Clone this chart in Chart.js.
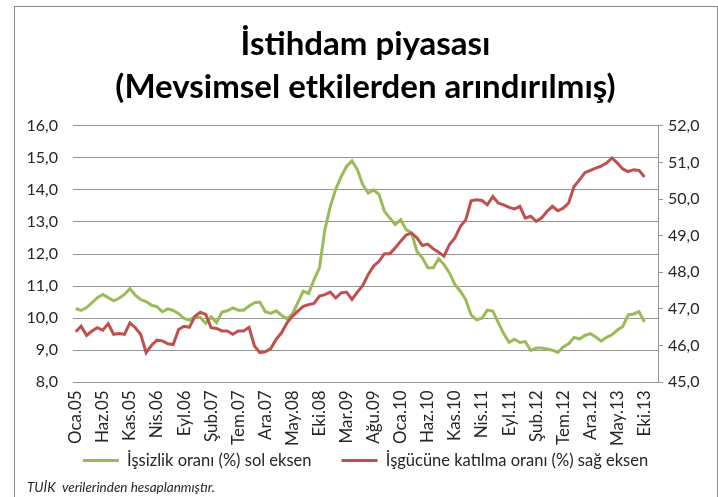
<!DOCTYPE html>
<html lang="tr">
<head>
<meta charset="utf-8">
<title>İstihdam piyasası</title>
<script src="https://cdn.jsdelivr.net/npm/chart.js@4.4.1/dist/chart.umd.min.js"></script>
<style>
  html, body { margin: 0; padding: 0; background: #fff; }
  #wrap { position: relative; width: 718px; height: 497px; overflow: hidden; }
  #frame { position: absolute; left: 14px; top: 6px; width: 702px; height: 600px; border: 1px solid #868686; }
  #chart { position: absolute; left: 0; top: 0; }
</style>
</head>
<body>
<div id="wrap">
  <div id="frame"></div>
  <canvas id="chart" width="718" height="497"></canvas>
</div>
<script>
// month names used for the category axis (Oca.05 ... Ara.13)
const monthNames = ["Oca", "Şub", "Mar", "Nis", "May", "Haz", "Tem", "Ağu", "Eyl", "Eki", "Kas", "Ara"];
const years = ["05", "06", "07", "08", "09", "10", "11", "12", "13"];

const labels = [];
years.forEach(y => monthNames.forEach(m => labels.push(m + "." + y)));

// İşsizlik oranı (%) - sol eksen, monthly from Oca.05 to Eki.13
const unemployment = [
  10.30, 10.24, 10.33, 10.48, 10.64, 10.74, 10.64, 10.54, 10.62, 10.74, 10.92, 10.72,
  10.58, 10.52, 10.40, 10.36, 10.20, 10.29, 10.24, 10.14, 9.99, 9.94, 10.04, 10.02,
  9.84, 10.04, 9.86, 10.19, 10.23, 10.32, 10.25, 10.25, 10.38, 10.48, 10.50, 10.20,
  10.15, 10.23, 10.09, 9.98, 10.13, 10.48, 10.84, 10.77, 11.20, 11.57, 12.76, 13.48,
  14.02, 14.41, 14.73, 14.90, 14.63, 14.16, 13.90, 14.00, 13.85, 13.33, 13.12, 12.92,
  13.07, 12.76, 12.66, 12.08, 11.88, 11.57, 11.57, 11.85, 11.67, 11.41, 11.05, 10.84,
  10.58, 10.10, 9.95, 10.00, 10.25, 10.22, 9.87, 9.52, 9.25, 9.34, 9.24, 9.27,
  8.99, 9.07, 9.07, 9.04, 9.00, 8.93, 9.10, 9.20, 9.40, 9.35, 9.46, 9.52,
  9.41, 9.28, 9.40, 9.48, 9.63, 9.74, 10.10, 10.13, 10.20, 9.88
];

// İşgücüne katılma oranı (%) - sağ eksen
const participation = [
  46.38, 46.53, 46.28, 46.40, 46.49, 46.42, 46.60, 46.31, 46.33, 46.31, 46.62, 46.49,
  46.31, 45.81, 46.01, 46.15, 46.13, 46.05, 46.03, 46.44, 46.53, 46.50, 46.80, 46.91,
  46.85, 46.49, 46.47, 46.40, 46.40, 46.31, 46.40, 46.40, 46.50, 45.99, 45.81, 45.83,
  45.92, 46.17, 46.35, 46.62, 46.80, 46.94, 47.07, 47.12, 47.15, 47.35, 47.39, 47.46,
  47.30, 47.44, 47.46, 47.26, 47.46, 47.64, 47.94, 48.17, 48.30, 48.51, 48.51, 48.67,
  48.85, 49.02, 49.07, 48.94, 48.73, 48.77, 48.64, 48.55, 48.44, 48.76, 48.94, 49.25,
  49.43, 49.95, 49.98, 49.96, 49.84, 50.07, 49.89, 49.84, 49.77, 49.73, 49.80, 49.48,
  49.53, 49.39, 49.48, 49.66, 49.80, 49.68, 49.75, 49.89, 50.34, 50.52, 50.72, 50.78,
  50.84, 50.90, 50.98, 51.12, 50.98, 50.82, 50.75, 50.80, 50.78, 50.60
];

const titleLines = ["İstihdam piyasası", "(Mevsimsel etkilerden arındırılmış)"];
const seriesNames = ["İşsizlik oranı (%) sol eksen", "İşgücüne katılma oranı (%) sağ eksen"];
const sourceNote = "TUİK  verilerinden hesaplanmıştır.";

const GREEN = "#9bbb59";
const RED = "#c0504d";
const GRID = "#969696";
const TXT = "#262626";
const FONT = "Lato, 'Open Sans', sans-serif";

const comma = v => Number(v).toFixed(1).replace(".", ",");

new Chart(document.getElementById("chart"), {
  type: "line",
  data: {
    labels: labels,
    datasets: [
      {
        label: seriesNames[0],
        data: unemployment,
        yAxisID: "y",
        borderColor: GREEN,
        backgroundColor: GREEN,
        borderWidth: 3,
        pointRadius: 0,
        tension: 0,
        order: 1
      },
      {
        label: seriesNames[1],
        data: participation,
        yAxisID: "y2",
        borderColor: RED,
        backgroundColor: RED,
        borderWidth: 3,
        pointRadius: 0,
        tension: 0,
        order: 0
      }
    ]
  },
  options: {
    responsive: false,
    animation: false,
    layout: { padding: { left: 27, right: 14, top: 0, bottom: 0 } },
    plugins: {
      tooltip: { enabled: false },
      title: {
        display: true,
        text: titleLines,
        color: "#000",
        font: { family: FONT, size: 33, weight: "bold", lineHeight: 1.3 },
        padding: { top: 23, bottom: 16.9 }
      },
      subtitle: {
        display: true,
        position: "bottom",
        align: "start",
        text: sourceNote,
        color: TXT,
        font: { family: FONT, size: 13.5, style: "italic", lineHeight: 1.2 },
        padding: { top: 1, bottom: 1 }
      },
      legend: {
        position: "bottom",
        sort: (a, b) => a.datasetIndex - b.datasetIndex,
        labels: {
          color: TXT,
          font: { family: FONT, size: 16.5 },
          boxWidth: 36,
          boxHeight: 3,
          padding: 30,
          generateLabels: chart => chart.data.datasets.map((ds, i) => ({
            text: ds.label,
            fillStyle: ds.borderColor,
            strokeStyle: ds.borderColor,
            lineWidth: 0,
            fontColor: TXT,
            hidden: false,
            datasetIndex: i
          }))
        }
      }
    },
    scales: {
      x: {
        type: "category",
        offset: true,
        grid: { display: false, drawTicks: false },
        border: { display: false },
        afterFit: s => {
          s.height = 40;
          // rotated labels run past the axis box, do not clip them
          s._computeLabelArea = () => undefined;
        },
        ticks: {
          autoSkip: false,
          maxRotation: 90,
          minRotation: 90,
          padding: 8,
          color: TXT,
          font: { family: FONT, size: 17 },
          callback: function (v, i) { return i % 5 === 0 ? labels[i] : ""; }
        }
      },
      y: {
        position: "left",
        min: 8,
        max: 16,
        afterFit: s => { s.width = 46; },
        grid: { color: GRID, lineWidth: 1, drawTicks: false },
        border: { display: false },
        ticks: {
          stepSize: 1,
          padding: 15,
          color: TXT,
          font: { family: FONT, size: 16 },
          callback: v => comma(v)
        }
      },
      y2: {
        position: "right",
        min: 45,
        max: 52,
        afterFit: s => { s.width = 46; },
        grid: { drawOnChartArea: false, drawTicks: true, tickLength: 5, color: GRID },
        border: { display: true, color: GRID, width: 1 },
        ticks: {
          stepSize: 1,
          padding: 5,
          color: TXT,
          font: { family: FONT, size: 16 },
          callback: v => comma(v)
        }
      }
    }
  }
});
</script>
</body>
</html>
